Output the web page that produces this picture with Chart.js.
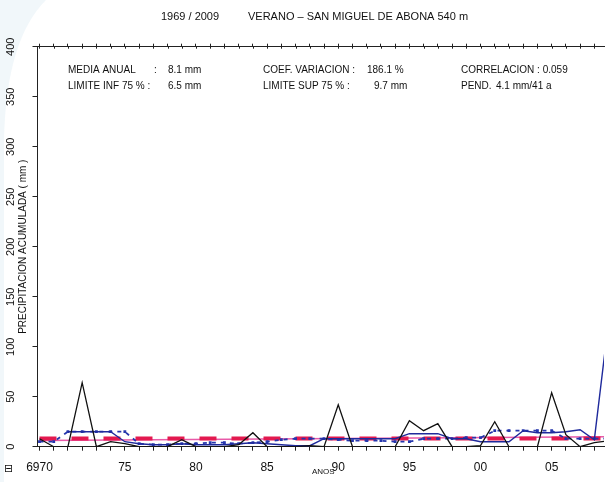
<!DOCTYPE html>
<html>
<head>
<meta charset="utf-8">
<script src="https://cdn.jsdelivr.net/npm/chart.js@4.4.1/dist/chart.umd.min.js"></script>
<style>
  html, body { margin: 0; padding: 0; background: #fff; overflow: hidden; }
  #wrap { width: 608px; height: 482px; position: relative; }
</style>
</head>
<body>
<div id="wrap"><canvas id="chart" width="608" height="482"></canvas></div>
<script>
// Summer rainfall, San Miguel de Abona (540 m), 1969-2009
const years = [1969, 1970, 1971, 1972, 1973, 1974, 1975, 1976, 1977, 1978,
               1979, 1980, 1981, 1982, 1983, 1984, 1985, 1986, 1987, 1988,
               1989, 1990, 1991, 1992, 1993, 1994, 1995, 1996, 1997, 1998,
               1999, 2000, 2001, 2002, 2003, 2004, 2005, 2006, 2007, 2008, 2009];

// accumulated summer precipitation (mm)
const annualRain = [8, 0, 0, 64, 0, 5, 3, 0, 0, 0,
                    7, 0, 0, 0, 2, 14, 0, 0, 0, 1,
                    0, 42, 0, 0, 0, 0, 26, 16, 23, 0,
                    0, 1, 25, 0, 0, 0, 54, 12, 0, 4, 6];

// smoothed series, solid blue
const smoothSolid = [null, null, 15, 15, 15, 15, 5, 3, 2, 2,
                     3, 2, 2, 2, 3, 4, 3, 2, 1, 1,
                     8, 8, 8, 8, 8, 8, 13, 13, 13, 8,
                     8, 5, 5, 5, 16, 14, 14, 15, 17, 7, 125];

// smoothed series, dotted blue with square markers
const smoothDotted = [5, 5, 15, 15, 15, 15, 15, 3, 2, 2,
                      3, 3, 4, 4, 3, 4, 5, 7, 8, 8,
                      8, 7, 6, 6, 6, 5, 5, 8, 8, 8,
                      9, 9, 16, 16, 16, 16, 16, 8, 8, 8, 8];

const meanRain = 8.1;          // media anual
const trendStart = 6.1;        // linear trend at 1969
const trendEnd = 10.1;         // linear trend at 2009

const yTickValues = [0, 50, 100, 150, 200, 250, 300, 350, 400];
const xTickLabels = { 1969: '6970', 1975: '75', 1980: '80', 1985: '85',
                      1990: '90', 1995: '95', 2000: '00', 2005: '05' };

const titleYears = '1969 / 2009';
const titlePlace = 'VERANO \u2013 SAN MIGUEL DE ABONA 540 m';
const yAxisTitle = 'PRECIPITACION ACUMULADA ( mm )';
const xAxisTitle = 'ANOS';

const statsText = [
  // [text, x, row]
  ['MEDIA ANUAL', 68, 0], [':', 154, 0], ['8.1 mm', 168, 0],
  ['LIMITE INF 75 % :', 68, 1], ['6.5 mm', 168, 1],
  ['COEF. VARIACION :', 263, 0], ['186.1 %', 367, 0],
  ['LIMITE SUP 75 % :', 263, 1], ['9.7 mm', 374, 1],
  ['CORRELACION : 0.059', 461, 0],
  ['PEND.', 461, 1], ['4.1 mm/41 a', 496, 1]
];
const statsRowY = [70, 86];

const FONT = '"Liberation Sans", Arial, Helvetica, sans-serif';
const pts = arr => years.map((y, i) => ({ x: y, y: arr[i] }));
const yearTicks = years.slice(0, 40).map(v => ({ value: v }));

// faint page decoration along the left edge
const backdropPlugin = {
  id: 'backdrop',
  beforeDraw(chart) {
    const ctx = chart.ctx;
    ctx.save();
    ctx.fillStyle = 'rgba(214, 232, 240, 0.35)';
    ctx.beginPath();
    ctx.moveTo(0, 0);
    ctx.lineTo(46, 0);
    ctx.quadraticCurveTo(6, 40, 4, 140);
    ctx.lineTo(4, 482);
    ctx.lineTo(0, 482);
    ctx.closePath();
    ctx.fill();
    ctx.restore();
  }
};

const textPlugin = {
  id: 'chartTexts',
  afterDraw(chart) {
    const ctx = chart.ctx;
    const ys = chart.scales.y;
    const xt = chart.scales.xTop;
    ctx.save();

    // small ticks crossing into the plot from the top border
    ctx.strokeStyle = '#222';
    ctx.lineWidth = 1;
    ctx.beginPath();
    xt.ticks.forEach(t => {
      const px = Math.round(xt.getPixelForValue(t.value)) + 0.5;
      ctx.moveTo(px, xt.bottom);
      ctx.lineTo(px, xt.bottom + 2);
    });
    ctx.stroke();

    ctx.fillStyle = '#111';

    // title
    ctx.font = '11px ' + FONT;
    ctx.textBaseline = 'middle';
    ctx.textAlign = 'left';
    ctx.fillText(titleYears, 161, 17);
    ctx.fillText(titlePlace, 248, 17);

    // statistics block
    ctx.font = '10px ' + FONT;
    statsText.forEach(([t, x, r]) => ctx.fillText(t, x, statsRowY[r]));

    // rotated y tick labels
    ctx.font = '11px ' + FONT;
    ctx.textAlign = 'center';
    yTickValues.forEach(v => {
      ctx.save();
      ctx.translate(11, ys.getPixelForValue(v));
      ctx.rotate(-Math.PI / 2);
      ctx.fillText(String(v), 0, 0);
      ctx.restore();
    });

    // y axis title
    ctx.font = '10px ' + FONT;
    ctx.save();
    ctx.translate(23, (chart.chartArea.top + chart.chartArea.bottom) / 2);
    ctx.rotate(-Math.PI / 2);
    ctx.fillText(yAxisTitle, 0, 0);
    ctx.restore();

    // x axis title and corner mark
    ctx.font = '8px ' + FONT;
    ctx.textAlign = 'left';
    ctx.fillText(xAxisTitle, 312, 472);
    ctx.font = '11px "DejaVu Sans", sans-serif';
    ctx.fillText('\u229F', 4, 469);
    ctx.restore();
  }
};

new Chart(document.getElementById('chart'), {
  type: 'line',
  data: {
    datasets: [
      { data: pts(annualRain), borderColor: '#111', borderWidth: 1.3,
        pointRadius: 0, tension: 0 },
      { data: pts(smoothSolid), borderColor: '#1f2a9c', borderWidth: 1.4,
        pointRadius: 0, tension: 0, spanGaps: false },
      { data: pts(smoothDotted), borderColor: '#2536ad', borderWidth: 1.8,
        borderDash: [4, 5], pointStyle: 'rect', pointRadius: 2,
        pointBackgroundColor: '#2536ad', pointBorderWidth: 0, tension: 0 },
      { data: [{ x: years[0], y: meanRain }, { x: years[years.length - 1], y: meanRain }],
        borderColor: '#e3194f', borderWidth: 4, borderDash: [17, 15],
        pointRadius: 0 },
      { data: [{ x: years[0], y: trendStart }, { x: years[years.length - 1], y: trendEnd }],
        borderColor: '#e85aa8', borderWidth: 1.5, pointRadius: 0 }
    ]
  },
  options: {
    responsive: false,
    devicePixelRatio: 1,
    animation: false,
    layout: { padding: 0 },
    plugins: { legend: { display: false }, tooltip: { enabled: false }, title: { display: false } },
    scales: {
      x: {
        type: 'linear', position: 'bottom', min: 1968.86, max: 2008.68,
        afterBuildTicks: s => { s.ticks = yearTicks.map(t => ({ value: t.value })); },
        ticks: {
          autoSkip: false, maxRotation: 0, minRotation: 0, padding: 10,
          color: '#111', font: { family: FONT, size: 12 },
          callback: v => xTickLabels[v] || ''
        },
        grid: { drawOnChartArea: false, drawTicks: true, tickLength: 4, color: '#222', lineWidth: 1 },
        border: { display: true, color: '#222', width: 1 },
        afterFit: s => { s.height = 482 - 446.7; }
      },
      xTop: {
        type: 'linear', position: 'top', min: 1968.86, max: 2008.68,
        afterBuildTicks: s => { s.ticks = yearTicks.map(t => ({ value: t.value })); },
        ticks: { display: false },
        grid: { drawOnChartArea: false, drawTicks: true, tickLength: 3, color: '#222', lineWidth: 1 },
        border: { display: true, color: '#222', width: 1 },
        afterFit: s => { s.height = 46.7; }
      },
      y: {
        type: 'linear', position: 'left', min: 0, max: 400,
        afterBuildTicks: s => { s.ticks = yTickValues.map(v => ({ value: v })); },
        ticks: { display: false },
        grid: { drawOnChartArea: false, drawTicks: true, tickLength: 5, color: '#222', lineWidth: 1 },
        border: { display: true, color: '#222', width: 1 },
        afterFit: s => { s.width = 37.5; }
      }
    }
  },
  plugins: [backdropPlugin, textPlugin]
});
</script>
</body>
</html>
